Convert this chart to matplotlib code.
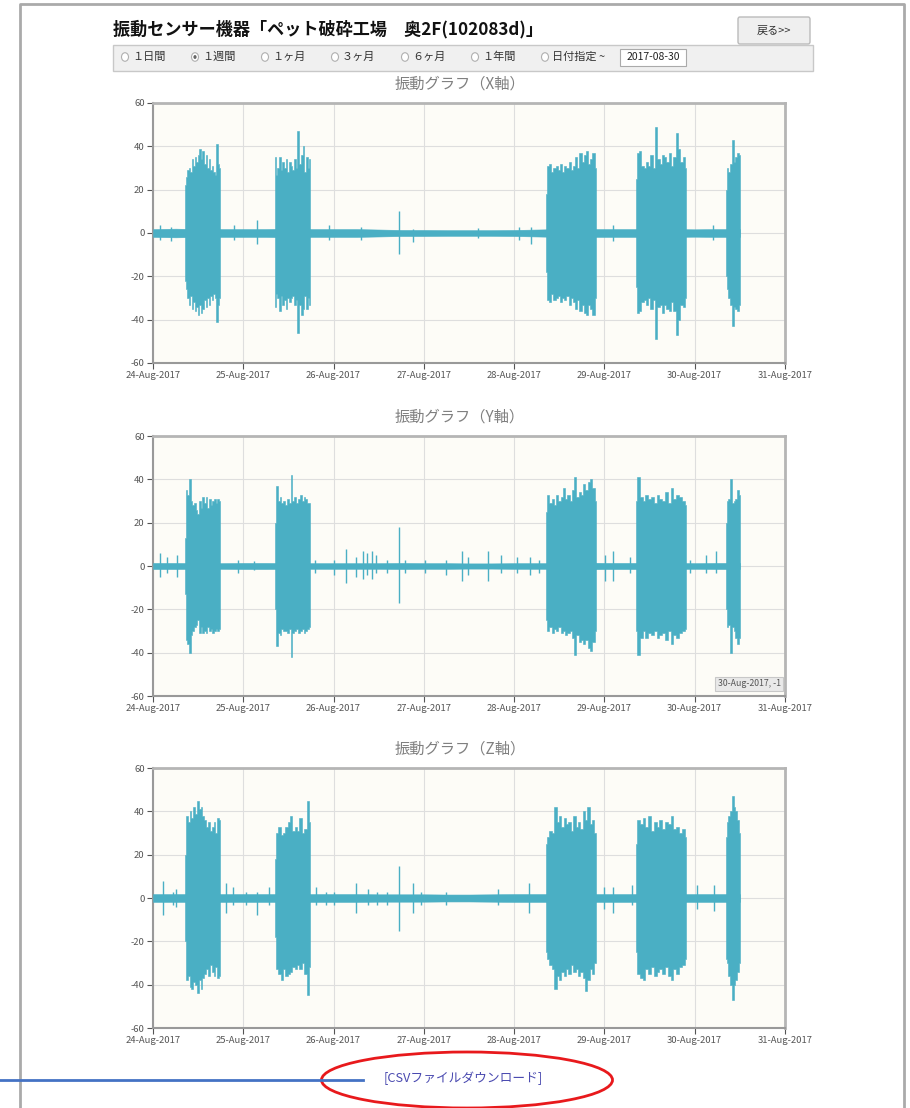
import numpy as np
import matplotlib
matplotlib.use('Agg')
import matplotlib.pyplot as plt
import matplotlib.patches as patches

plt.rcParams['font.family'] = ['Noto Sans CJK JP', 'DejaVu Sans']
plt.rcParams['axes.unicode_minus'] = False

W, H = 910, 1108
LINE = '#4AAFC4'

# ---- data (days since 24-Aug-2017 00:00) ----
day_labels = ['24-Aug-2017', '25-Aug-2017', '26-Aug-2017', '27-Aug-2017',
              '28-Aug-2017', '29-Aug-2017', '30-Aug-2017', '31-Aug-2017']
y_ticks = [-60, -40, -20, 0, 20, 40, 60]
range_options = ['１日間', '１週間', '１ヶ月', '３ヶ月', '６ヶ月', '１年間', '日付指定 ~']
selected_option = '１週間'
date_value = '2017-08-30'

# operation periods (start, end) in days, same for all three axes
burst_start = [0.354, 1.351, 4.352, 5.345, 6.345]
burst_end = [0.742, 1.739, 4.903, 5.903, 6.500]

# baseline amplitude, one value per 6 hours from 24-Aug 00:00
x_base = [1.8, 2.0, 1.8, 1.8, 1.8, 1.8, 2.0, 1.8, 1.8, 1.8, 1.6, 1.4, 1.4, 1.3,
          1.3, 1.3, 1.4, 1.6, 1.8, 1.8, 1.8, 1.8, 1.8, 1.8, 1.7, 1.8, 1.8]
y_base = [1.4, 1.4, 1.3, 1.3, 1.4, 1.4, 1.3, 1.3, 1.3, 1.3, 1.3, 1.4, 1.3, 1.3,
          1.2, 1.2, 1.3, 1.3, 1.3, 1.6, 1.4, 1.4, 1.4, 1.4, 1.3, 1.4, 1.4]
z_base = [1.8, 1.8, 1.8, 1.8, 1.8, 1.8, 1.8, 1.8, 1.8, 1.8, 1.7, 1.7, 1.7, 1.6,
          1.6, 1.7, 1.8, 1.8, 1.8, 1.8, 1.8, 1.8, 1.8, 1.8, 1.8, 1.8, 1.8]

# burst envelopes (max / min)
x_up = [
    [22, 26, 29, 30, 28, 34, 31, 35, 33, 36, 39, 34, 38, 32, 36, 30, 34, 29, 31, 28, 27, 41, 32, 30],
    [35, 27, 30, 35, 29, 33, 30, 34, 28, 33, 31, 29, 34, 30, 47, 32, 36, 40, 28, 35, 30, 34],
    [18, 31, 32, 28, 30, 31, 29, 32, 28, 31, 30, 33, 29, 31, 35, 30, 37, 33, 36, 38, 32, 34, 37, 30],
    [25, 37, 38, 31, 30, 33, 31, 36, 30, 49, 34, 32, 36, 35, 33, 37, 31, 35, 46, 39, 33, 35, 30],
    [20, 30, 28, 32, 43, 33, 35, 37, 36],
]
x_lo = [
    [-22, -26, -30, -33, -29, -35, -32, -36, -34, -38, -33, -37, -35, -31, -34, -30, -33, -29, -31, -28, -30, -41, -33, -30],
    [-34, -28, -30, -36, -29, -33, -31, -35, -30, -32, -30, -29, -33, -31, -46, -33, -38, -35, -29, -35, -30, -33],
    [-18, -31, -32, -28, -31, -30, -29, -32, -30, -31, -29, -33, -30, -32, -35, -31, -36, -33, -37, -38, -33, -35, -38, -30],
    [-25, -37, -36, -32, -31, -33, -30, -35, -31, -49, -34, -33, -37, -33, -35, -36, -32, -36, -47, -40, -33, -34, -30],
    [-20, -26, -30, -33, -43, -34, -35, -36, -33],
]
y_up = [
    [13, 35, 33, 40, 30, 28, 29, 26, 24, 30, 27, 32, 29, 32, 27, 31, 28, 30, 31, 29, 31, 30],
    [20, 37, 30, 32, 29, 30, 28, 31, 29, 42, 30, 32, 29, 31, 33, 30, 32, 31, 29, 29],
    [25, 33, 29, 31, 28, 33, 30, 32, 36, 31, 33, 30, 35, 41, 32, 34, 33, 38, 35, 39, 40, 36, 30],
    [30, 41, 32, 30, 33, 31, 32, 29, 33, 31, 30, 34, 29, 36, 31, 33, 32, 30, 28],
    [20, 30, 31, 40, 29, 30, 31, 35, 33],
]
y_lo = [
    [-13, -34, -36, -40, -32, -30, -28, -27, -25, -31, -28, -31, -30, -31, -28, -30, -29, -31, -30, -29, -30, -29],
    [-20, -37, -31, -32, -29, -30, -30, -31, -29, -42, -31, -30, -29, -31, -30, -29, -31, -30, -29, -28],
    [-25, -30, -28, -31, -29, -30, -28, -31, -30, -32, -31, -30, -33, -41, -32, -35, -34, -36, -34, -38, -39, -35, -30],
    [-30, -41, -33, -30, -33, -31, -32, -30, -33, -32, -31, -34, -30, -36, -32, -33, -31, -30, -29],
    [-20, -28, -27, -40, -28, -30, -33, -36, -33],
]
z_up = [
    [20, 38, 35, 40, 37, 42, 39, 45, 41, 42, 38, 36, 33, 35, 31, 33, 35, 30, 37, 36],
    [18, 30, 33, 29, 30, 33, 35, 38, 31, 33, 31, 37, 30, 32, 45, 35],
    [25, 28, 31, 30, 42, 35, 38, 33, 37, 34, 35, 31, 38, 33, 35, 32, 40, 36, 42, 34, 36, 30],
    [25, 36, 34, 37, 33, 38, 31, 35, 33, 36, 32, 35, 34, 38, 32, 33, 30, 32, 28],
    [28, 35, 38, 40, 47, 42, 40, 36, 30],
]
z_lo = [
    [-20, -38, -36, -41, -42, -39, -40, -44, -38, -42, -37, -35, -33, -36, -31, -34, -36, -32, -37, -36],
    [-18, -33, -35, -38, -33, -36, -35, -34, -32, -33, -31, -33, -30, -35, -45, -32],
    [-25, -28, -31, -33, -42, -36, -38, -34, -36, -33, -35, -31, -34, -33, -36, -34, -37, -43, -38, -33, -35, -30],
    [-25, -35, -37, -38, -33, -35, -32, -36, -34, -33, -35, -32, -36, -38, -33, -35, -32, -31, -28],
    [-28, -30, -36, -40, -47, -40, -38, -34, -30],
]

# isolated spikes outside operation
x_spk_t = [0.08, 0.2, 0.9, 1.148, 1.95, 2.3, 2.72, 2.885, 3.6, 4.05, 4.19, 5.1, 6.2]
x_spk_up = [3.5, 3, 3.5, 6, 3.5, 3, 10, 2, 2.5, 3, 3, 3.5, 3.5]
x_spk_lo = [-3, -3.5, -3, -5, -3, -3, -9.5, -4, -2.5, -3, -5, -3.5, -3]
y_spk_t = [0.077, 0.15, 0.27, 0.94, 1.12, 1.79, 2.01, 2.14, 2.25, 2.33, 2.37, 2.43, 2.47, 2.59,
           2.72, 2.79, 3.01, 3.25, 3.42, 3.49, 3.71, 3.85, 4.03, 4.18, 4.27, 5.01, 5.09, 5.28,
           5.95, 6.13, 6.24]
y_spk_up = [6, 4, 5, 3, 2.5, 3, 3, 8, 4, 7, 6, 7, 5, 3, 18, 3, 3, 3, 7, 4, 7, 5, 4, 4, 3, 5, 7, 4, 3, 5, 7]
y_spk_lo = [-5, -3, -5, -3, -2, -3, -4, -8, -5, -6, -4, -6, -3, -3, -17, -3, -3, -4, -7, -4, -7, -3, -3, -4, -3, -7, -7, -3, -3, -3, -3]
z_spk_t = [0.114, 0.22, 0.25, 0.81, 0.89, 1.03, 1.15, 1.28, 1.81, 1.92, 2.01, 2.25, 2.38, 2.48,
           2.59, 2.72, 2.88, 2.97, 3.25, 3.82, 4.17, 4.99, 5.10, 5.30, 6.02, 6.21]
z_spk_up = [8, 3, 4, 7, 5, 3, 3, 5, 5, 3, 3, 7, 4, 3, 3, 15, 7, 3, 3, 4, 7, 5, 5, 6, 6, 6]
z_spk_lo = [-8, -3, -4, -7, -3, -3, -8, -3, -3, -3, -3, -7, -3, -3, -3, -15, -7, -3, -3, -3, -7, -5, -7, -3, -5, -6]

charts = [
    ('振動グラフ（X軸）', x_base, x_up, x_lo, x_spk_t, x_spk_up, x_spk_lo, 103, 363),
    ('振動グラフ（Y軸）', y_base, y_up, y_lo, y_spk_t, y_spk_up, y_spk_lo, 436, 696),
    ('振動グラフ（Z軸）', z_base, z_up, z_lo, z_spk_t, z_spk_up, z_spk_lo, 768, 1028),
]


def fx(px):
    return px / W


def fy(py):
    return 1 - py / H


fig = plt.figure(figsize=(W / 100, H / 100), dpi=100)
fig.patch.set_facecolor('white')

# page frame
fig.add_artist(plt.Line2D([fx(20), fx(20), fx(904), fx(904)], [fy(1108), fy(4), fy(4), fy(1108)],
                          color='#aaaaaa', lw=2))

# header
fig.text(fx(113), fy(29), '振動センサー機器「ペット破砕工場　奥2F(102083d)」', fontsize=12.3,
         fontweight='bold', va='center', ha='left', color='#111111')
fig.add_artist(patches.FancyBboxPatch((fx(738), fy(44)), fx(72), 27 / H,
                                      boxstyle='round,pad=0,rounding_size=0.002',
                                      fc='#efefef', ec='#bbbbbb', lw=1))
fig.text(fx(774), fy(31), '戻る>>', fontsize=8, ha='center', va='center', color='#333333')

# range selector bar
fig.add_artist(patches.Rectangle((fx(113), fy(71)), fx(700), 26 / H, fc='#f0f0f0', ec='#c8c8c8', lw=1))
rx = 125
for opt in range_options:
    fig.add_artist(patches.Circle((fx(rx), fy(57)), 3.5 / W, fc='white', ec='#b0b0b0', lw=0.8,
                                  transform=fig.transFigure))
    if opt == selected_option:
        fig.add_artist(patches.Circle((fx(rx), fy(57)), 1.6 / W, fc='#666666', ec='none',
                                      transform=fig.transFigure))
    fig.text(fx(rx + 7), fy(57), opt, fontsize=8, va='center', ha='left', color='#333333')
    rx += 70
fig.add_artist(patches.Rectangle((fx(620), fy(66)), fx(66), 17 / H, fc='white', ec='#aaaaaa', lw=0.8))
fig.text(fx(653), fy(57.5), date_value, fontsize=7.5, ha='center', va='center', color='#222222')

for title, base, ups, los, st, su, sl, top, bot in charts:
    ax = fig.add_axes([fx(153), fy(bot), fx(632), (bot - top) / H])
    ax.set_facecolor('#FDFCF7')
    fig.text(fx(460), fy(top - 19), title, fontsize=11, ha='center', va='center', color='#808080')

    tb = np.arange(len(base)) * 0.25
    ax.fill_between(tb, -np.array(base), np.array(base), color=LINE, lw=0.4, zorder=3)
    ax.vlines(st, sl, su, color=LINE, lw=1.0, zorder=3)
    for s, e, u, l in zip(burst_start, burst_end, ups, los):
        t = np.linspace(s, e, len(u))
        ax.fill_between(t, l, u, step='mid', color=LINE, lw=0.4, ec=LINE, zorder=3)

    ax.set_xlim(0, 7)
    ax.set_ylim(-60, 60)
    ax.set_xticks(range(len(day_labels)))
    ax.set_xticklabels(day_labels)
    ax.set_yticks(y_ticks)
    ax.tick_params(labelsize=6.8, colors='#555555', length=4, width=0.8, pad=2)
    ax.grid(True, color='#dedede', lw=0.8, zorder=0)
    ax.set_axisbelow(True)
    for side in ['left', 'bottom']:
        ax.spines[side].set_color('#999999')
        ax.spines[side].set_linewidth(1.5)
    for side in ['top', 'right']:
        ax.spines[side].set_color('#b5b5b5')
        ax.spines[side].set_linewidth(2)

    if 'Y' in title:
        ax.text(0.993, 0.03, '30-Aug-2017, -1', transform=ax.transAxes, fontsize=6.3, ha='right',
                va='bottom', color='#555555',
                bbox=dict(boxstyle='square,pad=0.3', fc='#e9e9e9', ec='#c8c8c8', lw=0.8), zorder=5)

# csv download link with annotation marks
fig.text(fx(463), fy(1078), '[CSVファイルダウンロード]', fontsize=9.2, ha='center', va='center',
         color='#4a4ab0')
fig.add_artist(plt.Line2D([0, fx(363)], [fy(1080), fy(1080)], color='#4472C4', lw=2))
fig.add_artist(patches.Ellipse((fx(467), fy(1080)), fx(291), 56 / H, fill=False, ec='#e8191c', lw=2))

fig.savefig('out.png', dpi=100)
